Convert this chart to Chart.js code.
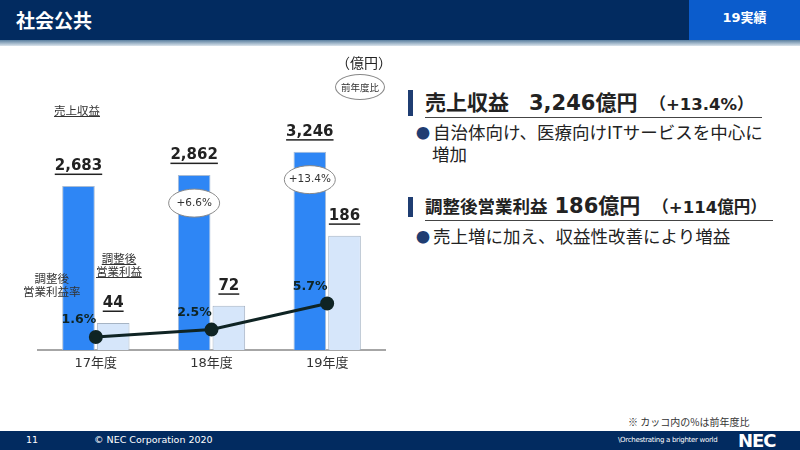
<!DOCTYPE html>
<html lang="ja">
<head>
<meta charset="utf-8">
<script src="https://cdn.jsdelivr.net/npm/chart.js@4/dist/chart.umd.min.js"></script>
<style>
  * { margin: 0; padding: 0; box-sizing: border-box; }
  body { width: 800px; height: 450px; position: relative; overflow: hidden; background: #fff;
         font-family: "DejaVu Sans", "Noto Sans CJK JP", sans-serif; color: #222; }
  .abs { position: absolute; white-space: nowrap; }
  #header { left: 0; top: 0; width: 800px; height: 40px; background: #022b60; }
  #stripe { left: 0; top: 40px; width: 800px; height: 6px; background: linear-gradient(#5a7f9f, #dbe4ec); }
  #title { left: 16px; top: 6px; font-size: 19px; font-weight: bold; color: #fff; }
  #tag { left: 689px; top: 0; width: 111px; height: 40px; background: #0b5ccc; color: #fff;
         font-size: 13px; font-weight: bold; text-align: center; line-height: 36px; }
  #chartBox { left: 0; top: 50px; width: 400px; height: 330px; }
  .note { font-size: 11.5px; color: #333; text-align: center; line-height: 13px; font-family: "Noto Sans CJK JP", sans-serif; }
  .ul { text-decoration: underline; }
  #unit { left: 336px; top: 52px; font-size: 14px; color: #222; font-family: "Noto Sans CJK JP", sans-serif; }
  #yoyKey { left: 335px; top: 74px; width: 50px; height: 26px; border: 1px solid #888; border-radius: 50%;
            font-size: 9.5px; text-align: center; line-height: 24px; color: #333; font-family: "Noto Sans CJK JP", sans-serif; }
  .head { left: 425px; font-weight: bold; color: #222; border-bottom: 1px solid #444; line-height: 24px; }
  .mark { left: 408px; width: 5px; background: #1f3d72; }
  .bullet { left: 416px; font-size: 17.5px; line-height: 21px; color: #222; font-family: "Noto Sans CJK JP", sans-serif; }
  .bullet b { color: #1f3d72; font-size: 14px; margin-right: 3px; vertical-align: 1px; }
  .jp { font-family: "Noto Sans CJK JP", sans-serif; }
  #footer { left: 0; top: 431px; width: 800px; height: 19px; background: #022b60; color: #fff; }
  #remark { left: 628px; top: 414px; font-size: 10px; color: #333; font-family: "Noto Sans CJK JP", sans-serif; }
</style>
</head>
<body>
<div id="header" class="abs"></div>
<div id="stripe" class="abs"></div>
<div id="title" class="abs jp">社会公共</div>
<div id="tag" class="abs">19実績</div>

<div id="chartBox" class="abs"><canvas id="chart"></canvas></div>

<div id="unit" class="abs">（億円）</div>
<div id="yoyKey" class="abs">前年度比</div>
<div class="abs note ul" style="left:54px; top:104px;">売上収益</div>
<div class="abs note" style="left:96px; top:252px;"><span class="ul">調整後</span><br><span class="ul">営業利益</span></div>
<div class="abs note" style="left:23px; top:272px;">調整後<br>営業利益率</div>

<div class="abs mark" style="top:90px; height:26px;"></div>
<div class="abs head" style="top:89px; width:337px;">
  <span class="jp" style="font-size:21px;">売上収益</span><span style="font-size:21px; margin-left:20px;">3,246</span><span class="jp" style="font-size:21px;">億円</span><span style="font-size:16.5px; margin-left:12px;"><span class="jp">（</span>+13.4%<span class="jp">）</span></span>
</div>
<div class="abs bullet" style="top:121px;"><b>●</b>自治体向け、医療向けITサービスを中心に<br><span style="margin-left:16px;">増加</span></div>

<div class="abs mark" style="top:197px; height:20px;"></div>
<div class="abs head" style="top:192px; width:348px;">
  <span class="jp" style="font-size:17.5px;">調整後営業利益</span><span style="font-size:21px; margin-left:7px;">186</span><span class="jp" style="font-size:21px;">億円</span><span style="font-size:16.5px; margin-left:12px;"><span class="jp">（</span>+114<span class="jp">億円）</span></span>
</div>
<div class="abs bullet" style="top:225px;"><b>●</b>売上増に加え、収益性改善により増益</div>

<div id="remark" class="abs">※ カッコ内の%は前年度比</div>
<div id="footer" class="abs">
  <span class="abs" style="left:26px; top:3px; font-size:9.5px;">11</span>
  <span class="abs" style="left:94px; top:3px; font-size:9.5px;">© NEC Corporation 2020</span>
  <span class="abs" style="left:618px; top:5px; font-size:7px; letter-spacing:-0.3px;">\Orchestrating a brighter world</span>
  <span class="abs" style="left:738px; top:-1px; font-size:18px; font-weight:bold; letter-spacing:-1px;">NEC</span>
</div>

<script>
// データ（億円 / %）
const years       = ['17年度', '18年度', '19年度'];
const revenue     = [2683, 2862, 3246];
const adjOpIncome = [44, 72, 186];
const adjOpMargin = [1.6, 2.5, 5.7];
const revenueYoY  = [null, 6.6, 13.4];

const FONT = '"DejaVu Sans", "Noto Sans CJK JP", sans-serif';

function underlinedText(ctx, text, x, y) {
    ctx.fillText(text, x, y);
    const w = ctx.measureText(text).width;
    ctx.fillRect(x - w / 2, y + 7, w, 1.5);
}

// 棒の数値・前年度比の楕円・利益率ラベル
const slideLabels = {
    id: 'slideLabels',
    afterDatasetsDraw(chart) {
        const { ctx } = chart;
        ctx.save();
        ctx.textAlign    = 'center';
        ctx.textBaseline = 'middle';

        ctx.font      = 'bold 15px ' + FONT;
        ctx.fillStyle = '#222';
        [0, 1].forEach(di => {
            chart.getDatasetMeta(di).data.forEach((bar, i) => {
                const v = chart.data.datasets[di].data[i];
                underlinedText(ctx, v.toLocaleString('en-US'), bar.x, bar.y - 19.5);
            });
        });

        const revMeta = chart.getDatasetMeta(0);
        revenueYoY.forEach((g, i) => {
            if (g == null) return;
            const bar = revMeta.data[i];
            const cy  = bar.y + 28;
            ctx.beginPath();
            ctx.ellipse(bar.x, cy, 25.5, 14, 0, 0, Math.PI * 2);
            ctx.fillStyle   = '#fff';
            ctx.fill();
            ctx.lineWidth   = 1;
            ctx.strokeStyle = '#8a8a8a';
            ctx.stroke();
            ctx.fillStyle = '#333';
            ctx.font      = '10.5px ' + FONT;
            ctx.fillText('+' + g.toFixed(1) + '%', bar.x, cy);
        });

        ctx.font      = 'bold 12.5px ' + FONT;
        ctx.fillStyle = '#0f2424';
        chart.getDatasetMeta(2).data.forEach((pt, i) => {
            ctx.fillText(adjOpMargin[i].toFixed(1) + '%', pt.x - 17, pt.y - 17);
        });
        ctx.restore();
    }
};

new Chart(document.getElementById('chart').getContext('2d'), {
    data: {
        labels: years,
        datasets: [
            { type: 'bar', label: '売上収益', data: revenue, yAxisID: 'yRev', order: 2,
              backgroundColor: '#2e86f5', borderColor: '#a9bcd4', borderWidth: 1,
              categoryPercentage: 0.6, barPercentage: 0.94 },
            { type: 'bar', label: '調整後営業利益', data: adjOpIncome, yAxisID: 'yOp', order: 2,
              backgroundColor: '#d6e6fa', borderColor: '#a6b4c4', borderWidth: 1,
              categoryPercentage: 0.6, barPercentage: 0.94 },
            { type: 'line', label: '調整後営業利益率', data: adjOpMargin, yAxisID: 'yRate', order: 0,
              borderColor: '#0f2424', borderWidth: 3, pointRadius: 5.5,
              pointBackgroundColor: '#0f2424', pointBorderColor: '#0f2424', tension: 0 }
        ]
    },
    plugins: [slideLabels],
    options: {
        responsive:          true,
        maintainAspectRatio: false,
        animation:           false,
        layout: { padding: { left: 38, right: 15, top: 0, bottom: 0 } },
        plugins: { legend: { display: false }, tooltip: { enabled: false } },
        scales: {
            x: {
                grid:   { display: false, drawTicks: false },
                border: { display: true, color: '#a6a6a6', width: 2 },
                ticks:  { color: '#333', padding: 6, font: { size: 13, family: FONT } },
                afterFit(scale) { scale.height = 30; }
            },
            yRev:  { display: false, min: 0, max: 4770 },
            yOp:   { display: false, min: 0, max: 475 },
            yRate: { display: false, min: 0, max: 35.7 }
        }
    }
});
</script>
</body>
</html>
